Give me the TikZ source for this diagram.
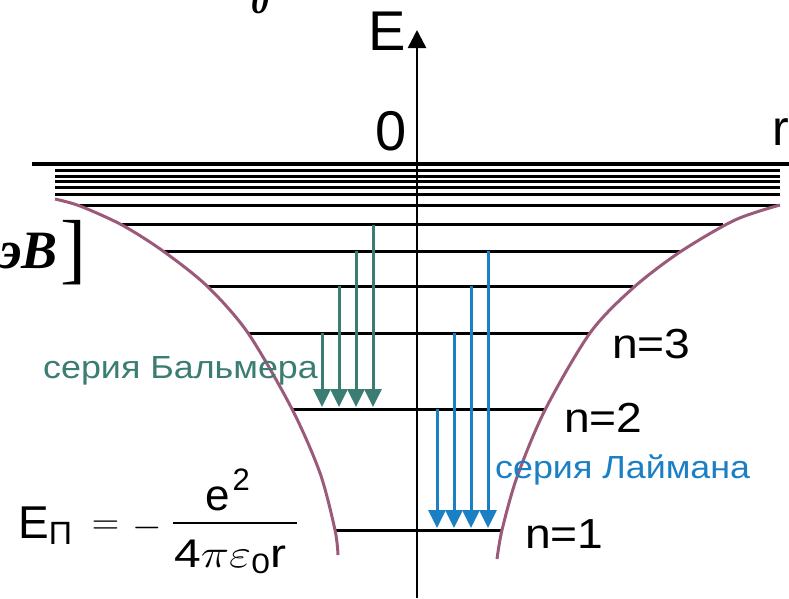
\RequirePackage{fix-cm}
\documentclass[tikz,border=0pt]{standalone}
\usepackage{amsmath}
\usepackage{graphicx}
\usepackage{fontspec}
\setmainfont{Liberation Sans}
\newfontfamily\timesfont{Liberation Serif}
\usetikzlibrary{arrows.meta}
\definecolor{balmer}{HTML}{3B7D72}
\definecolor{lyman}{HTML}{1B7FC4}
\definecolor{potential}{HTML}{9C5A7A}

\begin{document}
\begin{tikzpicture}[x=1pt, y=-1pt,
    lvl/.style={line width=3pt},
    wall/.style={line width=3pt, potential},
    jump/.style={line width=3pt, -{Triangle[width=17pt,length=18pt]}},
    nlab/.style={font=\fontsize{42}{46}\selectfont, anchor=base west, inner sep=0pt},
    series/.style={font=\fontsize{32}{36}\selectfont, anchor=base west, inner sep=0pt},
    formula/.style={font=\fontsize{46}{50}\selectfont, inner sep=0pt}]
  \useasboundingbox (0,0) rectangle (789,598);
  \clip (0,0) rectangle (789,598);
  % energy levels
  \draw[line width=4pt] (32,164) -- (789,164);
  \foreach \y/\a/\b in {170/55/780, 176/55/780, 181/55/780, 187/55/780, 194/55/780,
      205/80/778, 224/122/723, 251/163/680, 286/207/633, 333/248/590, 409/292/545, 530/335/502}
    \draw[lvl] (\a,\y) -- (\b,\y);
  % potential well
  \draw[wall] plot[smooth] coordinates {(55,199) (80,206) (122,225) (163,251) (207,286)
      (248,333) (292,409) (320,473) (335,530) (338,555)};
  \draw[wall] plot[smooth] coordinates {(780,205) (735,220) (680,252) (633,288)
      (590,333) (545,410) (517,477) (502,530) (497,559)};
  % axis
  \draw[line width=2.5pt, -{Triangle[width=18pt,length=18pt]}] (417,598) -- (417,30);
  % transitions
  \foreach \x/\y in {322/333, 339/286, 356/251, 373/225}
    \draw[jump, balmer] (\x,\y) -- (\x,407);
  \foreach \x/\y in {437/409, 454/333, 471/286, 488/251}
    \draw[jump, lyman] (\x,\y) -- (\x,528);
  % labels
  \node[font=\fontsize{56}{60}\selectfont, anchor=base west, inner sep=0pt] (E) at (368,50) {E};
  \node[font=\fontsize{56}{60}\selectfont, anchor=base, inner sep=0pt] (zero) at (391,150) {0};
  \node[font=\fontsize{50}{54}\selectfont, anchor=base west, inner sep=0pt] (r) at (772,145) {r};
  \node[nlab] (n3) at (612,358) {\scalebox{1.1}[1]{n=3}};
  \node[nlab] (n2) at (564,432) {\scalebox{1.1}[1]{n=2}};
  \node[nlab] (n1) at (525,548) {\scalebox{1.1}[1]{n=1}};
  \node[series, text=balmer] (balmerlab) at (43,378) {\scalebox{1.12}[1]{серия Бальмера}};
  \node[series, text=lyman] (lymanlab) at (495,478) {\scalebox{1.12}[1]{серия Лаймана}};
  % potential energy formula
  \node[formula, anchor=base west] (Epot) at (18,538) {$\mathrm{E}_{\text{П}}$};
  \node[formula, font=\fontsize{38}{42}\selectfont, anchor=base] (eq) at (105.5,534) {$=$};
  \node[formula, font=\fontsize{38}{42}\selectfont, anchor=base] (minus) at (147.5,537) {$-$};
  \draw[line width=2.5pt] (173,523) -- (297,523);
  \node[formula, font=\fontsize{44}{48}\selectfont, anchor=base west] (num) at (205,510)
    {e\hspace{3pt}\raisebox{20pt}{\fontsize{31}{33}\selectfont 2}};
  \node[formula, font=\fontsize{40}{44}\selectfont, anchor=base west] (den) at (174,567)
    {\scalebox{1.2}[1]{$\mathrm{4}\pi\varepsilon_{\mathrm{0}}\mathrm{r}$}};
  % cut-off fragments
  \node[font=\timesfont\bfseries\itshape\fontsize{36}{40}\selectfont, anchor=base west, inner sep=0pt] (frag) at (251,13) {0};
  \node[font=\timesfont\bfseries\itshape\fontsize{54}{58}\selectfont, anchor=base east, inner sep=0pt] (unit) at (58,268) {эВ};
  \node[font=\timesfont\fontsize{78}{80}\selectfont, anchor=base west, inner sep=0pt] (bracket) at (60,274) {]};
\end{tikzpicture}
\end{document}
